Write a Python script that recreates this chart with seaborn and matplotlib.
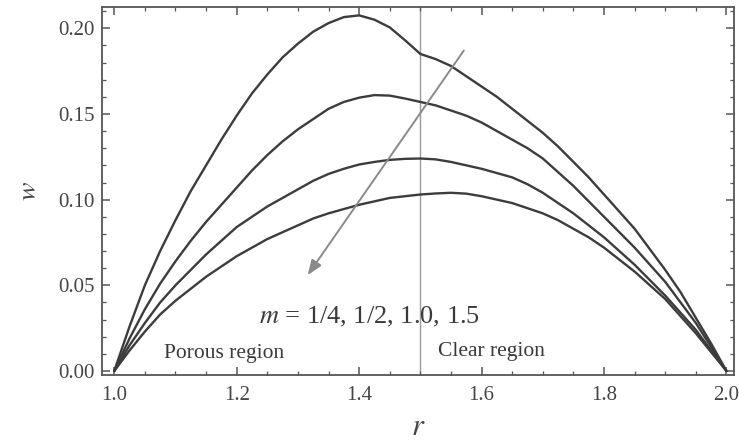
import numpy as np
import pandas as pd
import seaborn as sns
import matplotlib
matplotlib.use("Agg")
import matplotlib.pyplot as plt
from matplotlib.ticker import MultipleLocator, FormatStrFormatter

# ---- data ----
r_vals = [1.0, 1.025, 1.05, 1.075, 1.1, 1.125, 1.15, 1.175, 1.2, 1.225,
          1.25, 1.275, 1.3, 1.325, 1.35, 1.375, 1.4, 1.425, 1.45, 1.475,
          1.5, 1.525, 1.55, 1.575, 1.6, 1.625, 1.65, 1.675, 1.7, 1.725,
          1.75, 1.775, 1.8, 1.825, 1.85, 1.875, 1.9, 1.925, 1.95, 1.975, 2.0]
w_m025 = [0.0, 0.026, 0.050, 0.070, 0.088, 0.105, 0.120, 0.135, 0.149, 0.162,
          0.173, 0.183, 0.191, 0.198, 0.203, 0.2065, 0.2075, 0.205, 0.2005, 0.193,
          0.185, 0.182, 0.178, 0.172, 0.166, 0.160, 0.153, 0.146, 0.139, 0.131,
          0.122, 0.113, 0.103, 0.093, 0.083, 0.071, 0.059, 0.046, 0.031, 0.016, 0.0]
w_m050 = [0.0, 0.019, 0.036, 0.051, 0.064, 0.076, 0.087, 0.097, 0.107, 0.117,
          0.126, 0.134, 0.141, 0.147, 0.153, 0.157, 0.1595, 0.161, 0.1607, 0.159,
          0.157, 0.155, 0.152, 0.149, 0.145, 0.140, 0.135, 0.130, 0.124, 0.116,
          0.108, 0.099, 0.090, 0.081, 0.072, 0.062, 0.052, 0.040, 0.028, 0.014, 0.0]
w_m100 = [0.0, 0.015, 0.028, 0.040, 0.050, 0.059, 0.068, 0.076, 0.084, 0.090,
          0.096, 0.101, 0.106, 0.111, 0.115, 0.118, 0.1205, 0.122, 0.1232, 0.1238,
          0.124, 0.1235, 0.122, 0.120, 0.118, 0.1155, 0.113, 0.109, 0.104, 0.098,
          0.092, 0.085, 0.078, 0.070, 0.062, 0.053, 0.044, 0.034, 0.024, 0.012, 0.0]
w_m150 = [0.0, 0.012, 0.023, 0.033, 0.041, 0.048, 0.055, 0.061, 0.067, 0.072,
          0.077, 0.081, 0.085, 0.089, 0.092, 0.0945, 0.097, 0.099, 0.101, 0.102,
          0.103, 0.1036, 0.104, 0.1035, 0.102, 0.100, 0.098, 0.095, 0.092, 0.088,
          0.083, 0.078, 0.072, 0.065, 0.058, 0.050, 0.042, 0.032, 0.022, 0.011, 0.0]
m_labels = ["1/4", "1/2", "1.0", "1.5"]
x_ticks = [1.0, 1.2, 1.4, 1.6, 1.8, 2.0]
y_ticks = [0.00, 0.05, 0.10, 0.15, 0.20]
interface_r = 1.5
annotation_text = "$m$ = 1/4, 1/2, 1.0, 1.5"
porous_text = "Porous region"
clear_text = "Clear region"

rows = []
for lab, ws in zip(m_labels, [w_m025, w_m050, w_m100, w_m150]):
    for r, w in zip(r_vals, ws):
        rows.append({"r": r, "w": w, "m": lab})
df = pd.DataFrame(rows)

sns.set_style("ticks")
plt.rcParams["font.family"] = ["Liberation Serif", "DejaVu Serif"]
plt.rcParams["mathtext.fontset"] = "stix"

fig = plt.figure(figsize=(7.39, 4.48), dpi=100)
ax = fig.add_axes([0.138, 0.163, 0.855, 0.821])

line_col = "#3c3c3c"
sns.lineplot(data=df, x="r", y="w", hue="m", palette=[line_col] * 4,
             legend=False, sort=False, estimator=None, linewidth=1.7, ax=ax)

ax.axvline(interface_r, color="#9a9a9a", lw=1.0, zorder=0)

ax.set_xlim(0.98, 2.012)
ax.set_ylim(-0.0023, 0.2123)
ax.set_xticks(x_ticks)
ax.set_yticks(y_ticks)
ax.xaxis.set_major_formatter(FormatStrFormatter("%.1f"))
ax.yaxis.set_major_formatter(FormatStrFormatter("%.2f"))
ax.xaxis.set_minor_locator(MultipleLocator(0.05))
ax.yaxis.set_minor_locator(MultipleLocator(0.01))
ax.tick_params(which="both", direction="in", top=True, right=True, colors="#555555",
               labelcolor="#444444", labelsize=15)
ax.tick_params(which="major", length=6, width=1.1)
ax.tick_params(which="minor", length=3, width=0.9)
ax.tick_params(axis="x", which="major", pad=8)
ax.tick_params(axis="y", which="major", pad=5)
for s in ax.spines.values():
    s.set_color("#555555")
    s.set_linewidth(1.3)

ax.set_xlabel("$r$", fontsize=22, color="#444444", labelpad=6)
ax.set_ylabel("$w$", fontsize=20, color="#444444", labelpad=12)

ax.annotate("", xy=(1.316, 0.056), xytext=(1.571, 0.187),
            arrowprops=dict(arrowstyle="-|>,head_length=0.9,head_width=0.35",
                            color="#8a8a8a", lw=1.4, shrinkA=0, shrinkB=0))

ax.text(1.417, 0.0315, annotation_text, fontsize=19, color="#3a3a3a",
        ha="center", va="center")
ax.text(1.18, 0.0105, porous_text, fontsize=15.5, color="#3a3a3a", ha="center", va="center")
ax.text(1.616, 0.0115, clear_text, fontsize=15.5, color="#3a3a3a", ha="center", va="center")

fig.savefig("out.png", dpi=100)
